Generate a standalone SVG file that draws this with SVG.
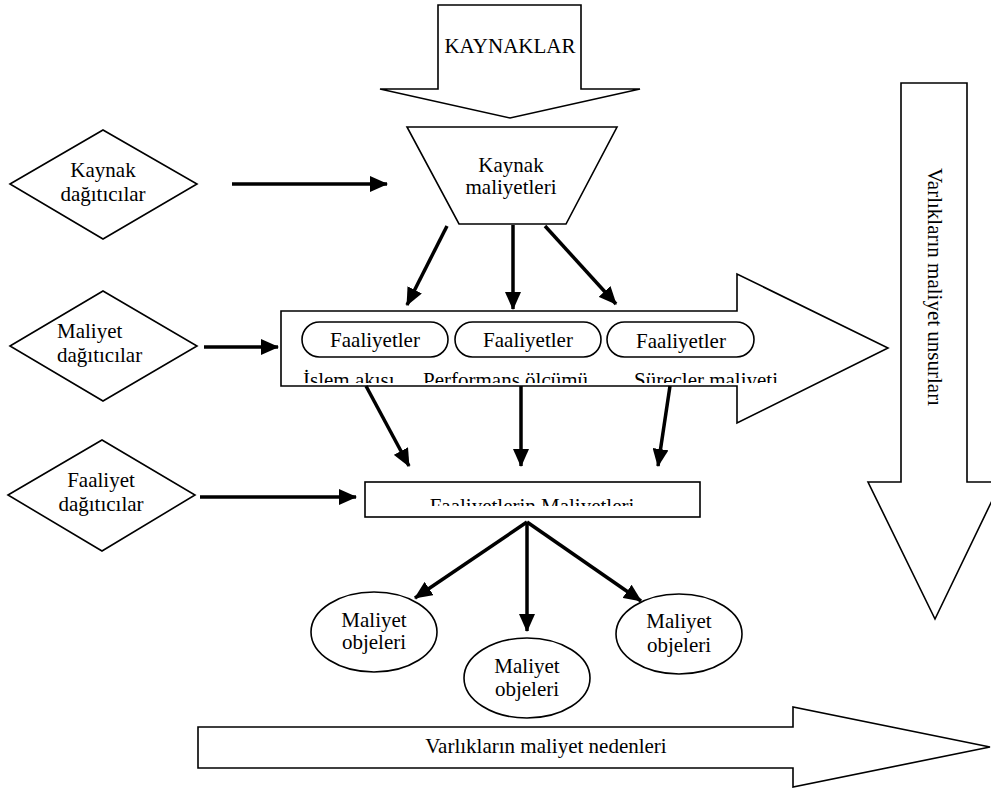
<svg xmlns="http://www.w3.org/2000/svg" width="991" height="789" viewBox="0 0 991 789">
<style>
.s{fill:#fff;stroke:#000;stroke-width:1.6}
.t{font-family:"Liberation Serif","Times New Roman",serif;font-size:21px;fill:#000}
.m{text-anchor:middle}
.c{fill:none;stroke:#000;stroke-width:3.5}
</style>
<defs>
<marker id="ah" markerUnits="userSpaceOnUse" markerWidth="18" markerHeight="16" refX="17" refY="8" orient="auto">
<path d="M0,0 L18,8 L0,16 z" fill="#000"/>
</marker>
<clipPath id="cp1"><rect x="281" y="355" width="520" height="28"/></clipPath>
<clipPath id="cp2"><rect x="366" y="483" width="333" height="23"/></clipPath>
</defs>
<rect width="991" height="789" fill="#fff"/>

<g id="kaynaklar">
<path class="s" d="M438,5 H581 V89 H640 L510,118 L380,89 H438 Z"/>
<text class="t m" x="510" y="53">KAYNAKLAR</text>
</g>

<g id="kaynak-maliyetleri">
<path class="s" d="M407,127 H617 L566,224 H459 Z"/>
<text class="t m" x="511" y="172">Kaynak</text>
<text class="t m" x="511" y="194">maliyetleri</text>
</g>

<g id="varliklarin-maliyet-unsurlari">
<path class="s" d="M901,83 H967 V482 H1001 L935,619 L868,482 H901 Z"/>
<text class="t m" transform="translate(928,287) rotate(90)">Varlıkların maliyet unsurları</text>
</g>

<g id="faaliyetler-arrow">
<path class="s" d="M281,311 H737 V274 L888,348 L737,423 V386 H281 Z"/>
<rect class="s" x="302" y="322" width="146" height="35" rx="17.5"/>
<rect class="s" x="455" y="322" width="146" height="35" rx="17.5"/>
<rect class="s" x="607" y="322" width="147" height="35" rx="17.5"/>
<text class="t m" x="375" y="347">Faaliyetler</text>
<text class="t m" x="528" y="347">Faaliyetler</text>
<text class="t m" x="681" y="348">Faaliyetler</text>
<g clip-path="url(#cp1)">
<text class="t" x="303" y="387">İşlem akışı</text>
<text class="t" x="423" y="387">Performans ölçümü</text>
<text class="t" x="634" y="387">Süreçler maliyeti</text>
</g>
</g>

<g id="kaynak-dagiticilar">
<path class="s" d="M10,184 L103,130 L197,184 L103,239 Z"/>
<text class="t m" x="103" y="177">Kaynak</text>
<text class="t m" x="103" y="201">dağıtıcılar</text>
</g>

<g id="maliyet-dagiticilar">
<path class="s" d="M10,346 L103,291 L197,346 L103,401 Z"/>
<text class="t" x="57" y="338">Maliyet</text>
<text class="t" x="57" y="362">dağıtıcılar</text>
</g>

<g id="faaliyet-dagiticilar">
<path class="s" d="M8,495 L102,440 L195,495 L102,551 Z"/>
<text class="t m" x="101" y="487">Faaliyet</text>
<text class="t m" x="101" y="511">dağıtıcılar</text>
</g>

<g id="faaliyetlerin-maliyetleri">
<rect class="s" x="365" y="482" width="335" height="35"/>
<g clip-path="url(#cp2)">
<text class="t m" x="532" y="513">Faaliyetlerin Maliyetleri</text>
</g>
</g>

<g id="maliyet-objeleri-1">
<ellipse class="s" cx="374" cy="632" rx="63" ry="40"/>
<text class="t m" x="374" y="627">Maliyet</text>
<text class="t m" x="374" y="649">objeleri</text>
</g>
<g id="maliyet-objeleri-2">
<ellipse class="s" cx="527" cy="678" rx="63" ry="40"/>
<text class="t m" x="527" y="673">Maliyet</text>
<text class="t m" x="527" y="696">objeleri</text>
</g>
<g id="maliyet-objeleri-3">
<ellipse class="s" cx="679" cy="634" rx="63" ry="40"/>
<text class="t m" x="679" y="628">Maliyet</text>
<text class="t m" x="679" y="652">objeleri</text>
</g>

<g id="varliklarin-maliyet-nedenleri">
<path class="s" d="M198,727 H793 V707 L990,747 L793,787 V768 H198 Z"/>
<text class="t m" x="546" y="753">Varlıkların maliyet nedenleri</text>
</g>

<g id="connectors">
<line class="c" x1="232" y1="184" x2="387" y2="184" marker-end="url(#ah)"/>
<line class="c" x1="204" y1="347" x2="278" y2="347" marker-end="url(#ah)"/>
<line class="c" x1="200" y1="497" x2="356" y2="497" marker-end="url(#ah)"/>
<line class="c" x1="447" y1="226" x2="407" y2="305" marker-end="url(#ah)"/>
<line class="c" x1="513" y1="225" x2="513" y2="309" marker-end="url(#ah)"/>
<line class="c" x1="545" y1="226" x2="616" y2="304" marker-end="url(#ah)"/>
<line class="c" x1="366" y1="386" x2="409" y2="466" marker-end="url(#ah)"/>
<line class="c" x1="521" y1="386" x2="521" y2="466" marker-end="url(#ah)"/>
<line class="c" x1="670" y1="386" x2="658" y2="466" marker-end="url(#ah)"/>
<line class="c" x1="527" y1="522" x2="415" y2="598" marker-end="url(#ah)"/>
<line class="c" x1="527" y1="522" x2="527" y2="631" marker-end="url(#ah)"/>
<line class="c" x1="527" y1="522" x2="641" y2="601" marker-end="url(#ah)"/>
</g>
</svg>
